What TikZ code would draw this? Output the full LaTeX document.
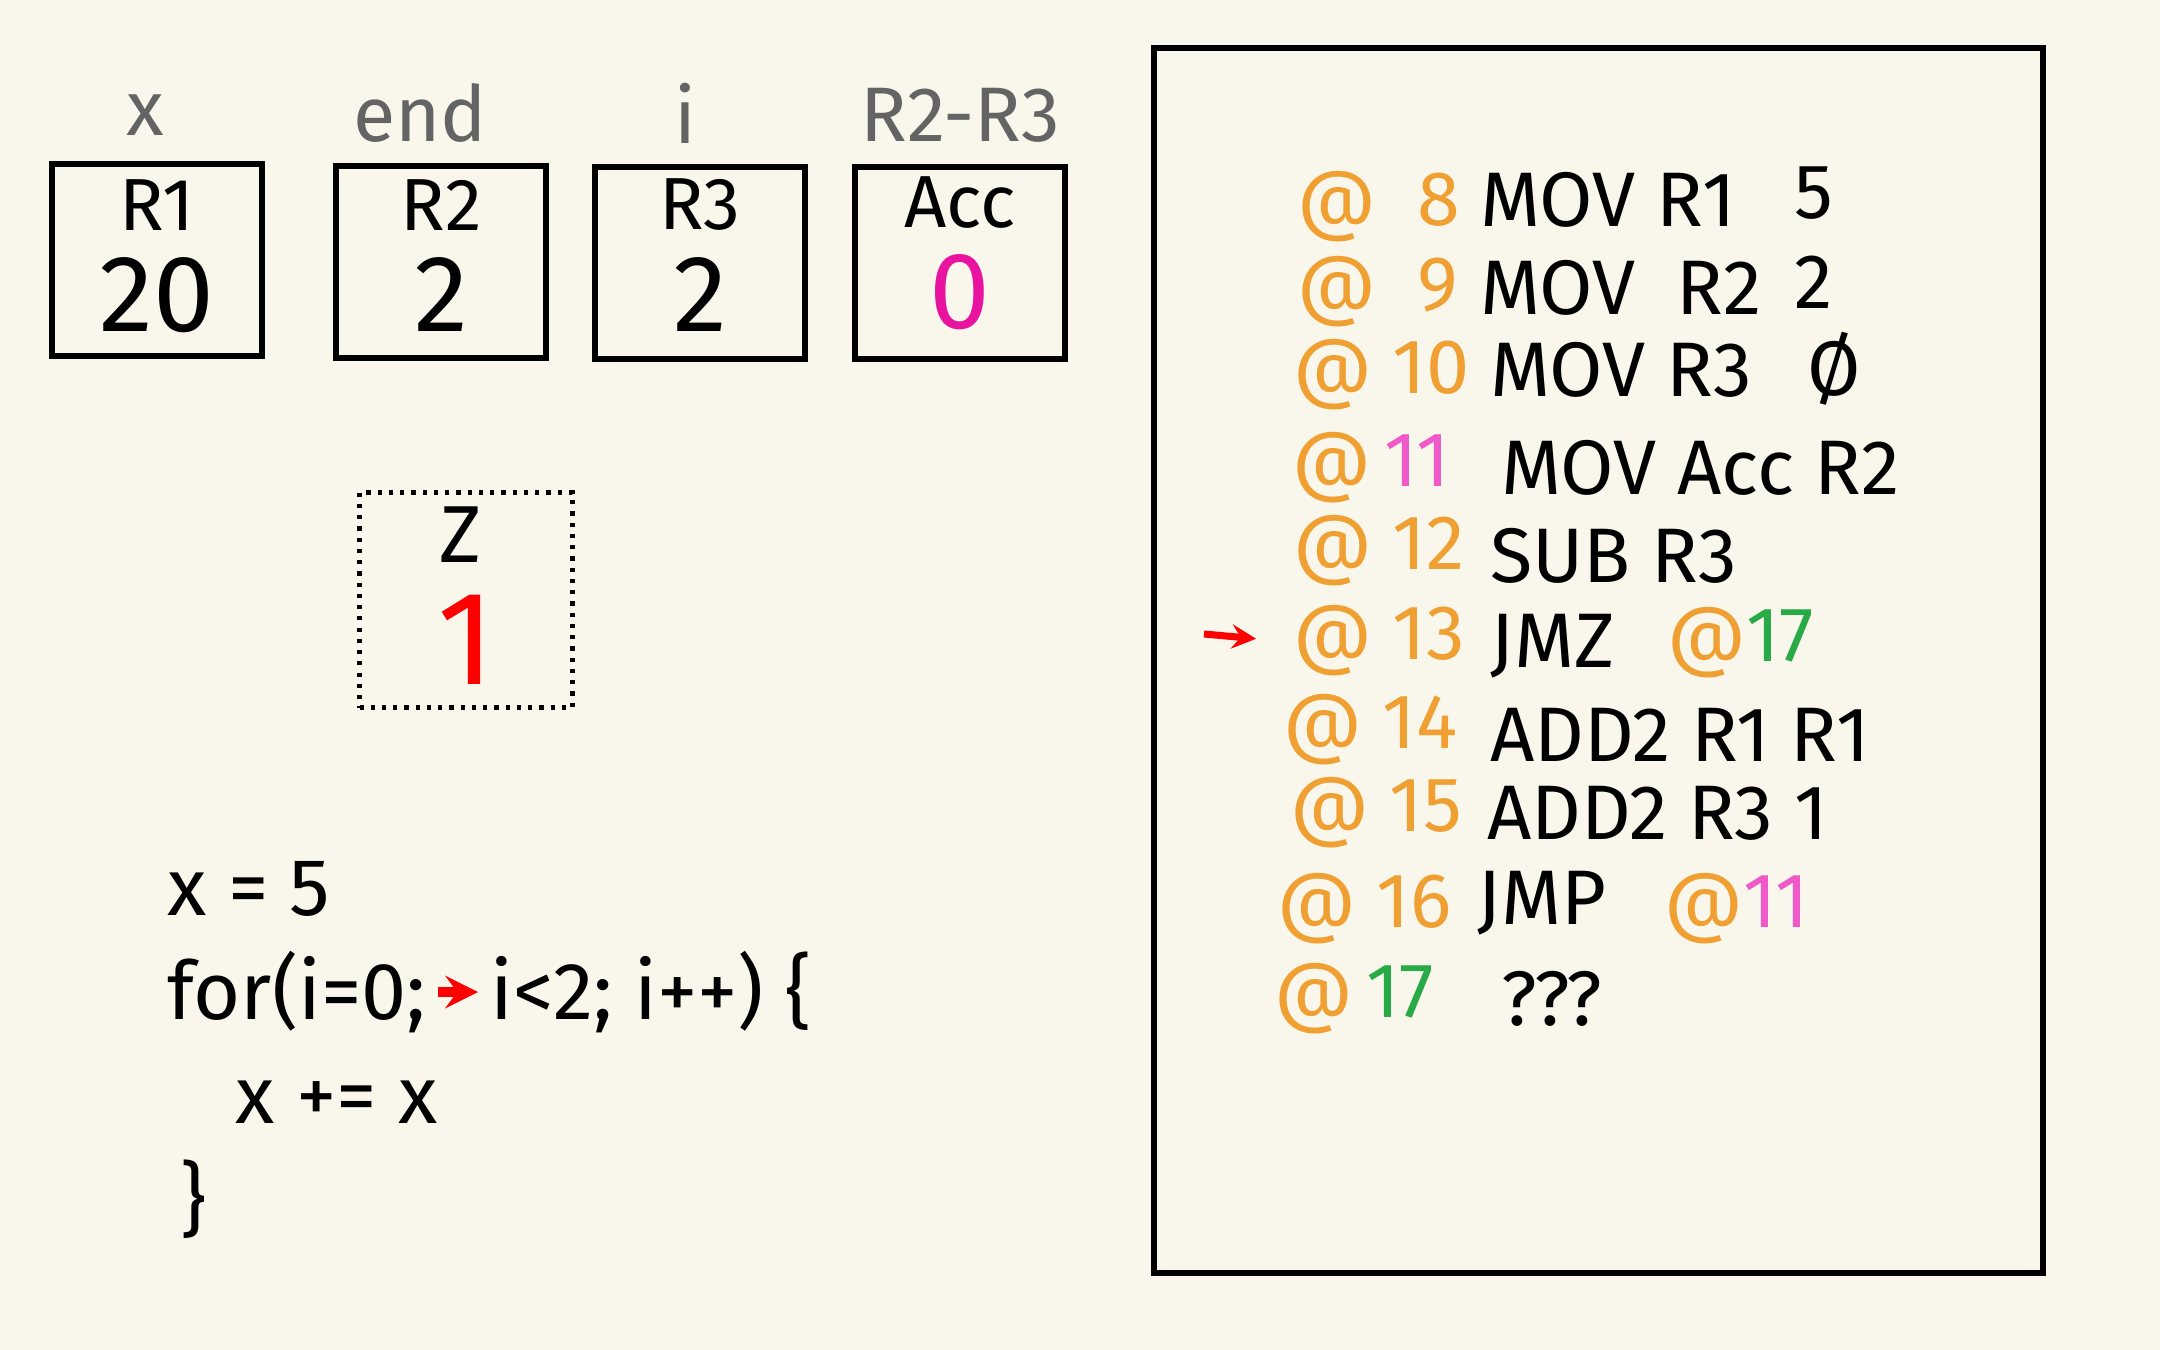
\documentclass[tikz,border=0pt]{standalone}
\usepackage{fontspec}
\setsansfont{Fira Sans}
\usetikzlibrary{positioning}

\definecolor{paper}{RGB}{249,247,236}
\definecolor{addr}{RGB}{240,160,50}
\definecolor{jumppink}{RGB}{240,90,200}
\definecolor{jumpgreen}{RGB}{40,170,70}
\definecolor{accpink}{RGB}{232,20,160}
\definecolor{labelgray}{RGB}{100,100,100}

\tikzset{
  regbox/.style={draw, line width=1.6pt, minimum width=21mm, minimum height=19.2mm, inner sep=0pt},
  regname/.style={font=\sffamily\fontsize{21}{24}\selectfont},
  regval/.style={font=\sffamily\fontsize{31}{34}\selectfont},
  varlabel/.style={text=labelgray, font=\sffamily\fontsize{22}{26}\selectfont},
  code/.style={anchor=west, font=\sffamily\fontsize{23}{28}\selectfont},
  prog/.style={anchor=west, font=\sffamily\fontsize{22}{26}\selectfont},
}

\begin{document}
\begin{tikzpicture}[x=0.1mm, y=-0.1mm, >=stealth]
  \useasboundingbox[fill=paper] (0,0) rectangle (2160,1350);

  % registers
  \node[regbox] (r1) at (157,260) {};
  \node[regbox] (r2) at (441,262) {};
  \node[regbox] (r3) at (700,263) {};
  \node[regbox] (acc) at (960,263) {};

  \node[varlabel] (lx) at (145,115) {x};
  \node[varlabel] (lend) at (420,113) {end};
  \node[varlabel] (li) at (685,113) {i};
  \node[varlabel] (ldiff) at (960,115) {R2-R3};

  \node[regname] at (157,205) {R1};
  \node[regname] at (441,205) {R2};
  \node[regname] at (700,205) {R3};
  \node[regname] at (960,203) {Acc};

  \node[regval] at (157,295) {20};
  \node[regval] at (441,295) {2};
  \node[regval] at (700,295) {2};
  \node[regval, text=accpink] at (960,292) {0};

  % zero flag
  \node[draw, dotted, line width=1.2pt, minimum width=21.3mm, minimum height=21.5mm] (zf) at (466,600) {};
  \node[regname, font=\sffamily\fontsize{23}{26}\selectfont] at (461,535) {Z};
  \node[regval, text=red, font=\sffamily\fontsize{38}{42}\selectfont] at (466,640) {1};

  % source code
  \node[code] (c1) at (155,889) {x = 5};
  \node[code] (f1) at (155,992) {for(i=0;};
  \node[code] (f2) at (478,992) {i<2; i++) \{};
  \draw[->, red, line width=3pt] (f1.east) -- (f2.west);
  \node[code] (c3) at (223,1102) {x += x};
  \node[code] (c4) at (168,1199) {\}};

  % program
  \draw[line width=1.6pt] (1154,48) rectangle (2043,1273);

  \node[prog, text=addr] (a8) at (1285,207) {@ \ 8};
  \node[prog] (i8) at (1468,200) {MOV R1};
  \node[prog] (o8) at (1782,193) {5};

  \node[prog, text=addr] (a9) at (1285,292) {@ \ 9};
  \node[prog] (i9) at (1468,288) {MOV\ \ R2};
  \node[prog] (o9) at (1782,282) {2};

  \node[prog, text=addr] (a10) at (1281,375) {@ 10};
  \node[prog] (i10) at (1478,370) {MOV R3};
  \node[prog] (o10) at (1795,369) {\O};

  \node[prog] (a11) at (1280,468) {\textcolor{addr}{@}\,\textcolor{jumppink}{11}};
  \node[prog] (i11) at (1489,468) {MOV Acc R2};

  \node[prog, text=addr] (a12) at (1281,551) {@ 12};
  \node[prog] (i12) at (1478,556) {SUB R3};

  \node[prog, text=addr] (a13) at (1281,641) {@ 13};
  \node[prog] (i13) at (1478,646) {JMZ};
  \node[prog] (o13) at (1655,643) {\textcolor{addr}{@}\textcolor{jumpgreen}{17}};

  \node[prog, text=addr] (a14) at (1271,730) {@ 14};
  \node[prog] (i14) at (1478,735) {ADD2 R1 R1};

  \node[prog, text=addr] (a15) at (1278,813) {@ 15};
  \node[prog] (i15) at (1475,813) {ADD2 R3 1};

  \node[prog, text=addr] (a16) at (1265,909) {@ 16};
  \node[prog] (i16) at (1465,903) {JMP};
  \node[prog] (o16) at (1652,909) {\textcolor{addr}{@}\textcolor{jumppink}{11}};

  \node[prog] (a17) at (1262,999) {\textcolor{addr}{@}\,\textcolor{jumpgreen}{17}};
  \node[prog] (i17) at (1489,999) {???};

  % current instruction
  \coordinate (pc) at (1204,634);
  \draw[->, red, line width=2pt, shorten >=2.5mm] (pc) -- (a13.west);
\end{tikzpicture}
\end{document}
